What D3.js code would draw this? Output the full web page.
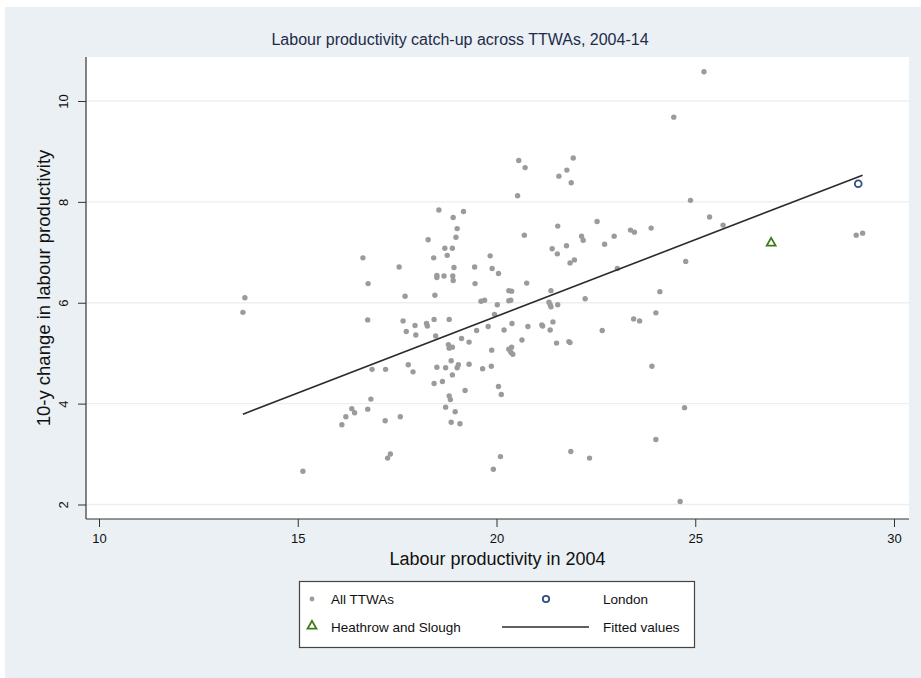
<!DOCTYPE html>
<html>
<head>
<meta charset="utf-8">
<script src="https://cdn.jsdelivr.net/npm/d3@7"></script>
<style>
  body { margin: 0; background: #fff; }
  svg { display: block; }
  text { font-family: "Liberation Sans", Arial, Helvetica, sans-serif; }
</style>
</head>
<body>
<div id="chart"></div>
<script>
// Labour productivity in 2004 (x) and 10-year change (y), all TTWAs
const ttwaX = [
  13.67, 13.62, 15.13,
  16.11, 16.21, 16.36, 16.43, 16.76, 16.84, 17.20, 17.58, 17.33, 17.26, 18.72, 18.81, 18.84, 18.96, 18.86, 19.08,
  16.76, 17.65, 17.95, 18.24, 18.26, 18.43, 18.81, 17.73, 17.97, 18.47, 18.79, 18.81, 18.89, 19.12, 19.31,
  16.87, 17.21, 17.78, 17.90, 18.50, 18.72, 18.86, 19.04, 19.01, 19.31, 18.89, 18.43, 18.64, 19.21,
  18.55, 18.91, 19.17, 19.01, 18.98, 18.28, 18.70, 18.89, 18.76, 18.42, 16.64, 17.55, 18.93, 18.50, 18.50,
  18.68, 18.90, 18.91, 16.77, 17.70, 18.45,
  19.45, 19.46, 19.84, 19.89, 20.05, 20.56, 20.72, 20.53, 20.70, 21.93, 21.77, 21.57, 21.88, 24.46, 24.88,
  25.36, 25.70, 21.54, 22.53, 22.14, 22.18, 22.96, 22.72, 23.37, 23.47, 23.89, 21.40, 21.53, 21.76, 21.85,
  21.96, 23.04, 24.76, 20.76, 20.31, 20.38, 20.31, 20.36, 19.70, 19.61, 20.02, 19.95, 21.37, 21.32, 21.35,
  21.37, 21.54, 22.23, 24.11, 24.01, 23.45, 23.60, 22.66, 19.50, 19.79, 20.19, 20.39, 20.79, 21.14, 21.16,
  21.42, 21.35, 19.88, 20.31, 20.38, 20.41, 20.36, 20.64, 21.51, 21.82, 21.85, 19.65, 19.87, 20.05, 20.12,
  23.91, 24.73, 24.01, 21.87, 22.34, 20.10, 19.92, 24.62, 25.22,
  29.05, 29.21
];
const ttwaY = [
  6.10, 5.81, 2.66,
  3.58, 3.74, 3.90, 3.82, 3.89, 4.09, 3.66, 3.74, 3.00, 2.92, 3.93, 4.15, 4.08, 3.84, 3.63, 3.60,
  5.66, 5.64, 5.55, 5.59, 5.54, 5.67, 5.67, 5.43, 5.36, 5.34, 5.17, 5.10, 5.12, 5.29, 5.22,
  4.68, 4.68, 4.77, 4.63, 4.72, 4.71, 4.85, 4.77, 4.71, 4.78, 4.57, 4.40, 4.44, 4.26,
  7.84, 7.69, 7.81, 7.47, 7.30, 7.25, 7.08, 7.08, 6.94, 6.89, 6.89, 6.71, 6.70, 6.54, 6.50,
  6.53, 6.53, 6.44, 6.38, 6.13, 6.15,
  6.71, 6.38, 6.93, 6.68, 6.58, 8.82, 8.68, 8.12, 7.34, 8.87, 8.63, 8.51, 8.38, 9.68, 8.03,
  7.70, 7.54, 7.52, 7.61, 7.32, 7.24, 7.32, 7.16, 7.44, 7.40, 7.48, 7.07, 6.97, 7.13, 6.79,
  6.85, 6.68, 6.82, 6.39, 6.24, 6.23, 6.04, 6.05, 6.05, 6.03, 5.96, 5.77, 6.24, 6.01, 5.96,
  5.92, 5.96, 6.08, 6.22, 5.80, 5.68, 5.64, 5.45, 5.45, 5.53, 5.46, 5.59, 5.53, 5.56, 5.54,
  5.62, 5.46, 5.06, 5.08, 5.12, 4.98, 5.02, 5.26, 5.20, 5.23, 5.21, 4.69, 4.74, 4.34, 4.18,
  4.74, 3.92, 3.29, 3.05, 2.92, 2.95, 2.70, 2.06, 10.58,
  7.34, 7.38
];
const londonX = [29.10];
const londonY = [8.36];
const heathrowX = [26.91];
const heathrowY = [7.20];
// Fitted line end points
const fitX = [13.62, 29.21];
const fitY = [3.79, 8.53];

const xTicks = [10, 15, 20, 25, 30];
const yTicks = [2, 4, 6, 8, 10];

const legendLabels = ["All TTWAs", "London", "Heathrow and Slough", "Fitted values"];

const width = 921;
const height = 678;
const plot = { left: 86, right: 909, top: 57, bottom: 519 };

const grey = "#9b9b9b";
const navy = "#2d4f83";
const green = "#3d7a1b";

const svg = d3.select("#chart").append("svg")
  .attr("width", width)
  .attr("height", height);

// Outer graph region
svg.append("rect")
  .attr("x", 5).attr("y", 7)
  .attr("width", width - 5).attr("height", height - 7)
  .attr("fill", "#eaf0f3");

// Plot region
svg.append("rect")
  .attr("x", plot.left).attr("y", plot.top)
  .attr("width", plot.right - plot.left).attr("height", plot.bottom - plot.top)
  .attr("fill", "#fff");

const x = d3.scaleLinear().domain([10, 30]).range([99, 894]);
const y = d3.scaleLinear().domain([2, 10]).range([504.5, 101]);

// Horizontal grid lines
svg.append("g")
  .selectAll("line")
  .data(yTicks)
  .enter()
  .append("line")
  .attr("x1", plot.left).attr("x2", plot.right)
  .attr("y1", d => y(d)).attr("y2", d => y(d))
  .attr("stroke", "#e9eff2")
  .attr("stroke-width", 1.3);

// Axes
const xAxis = svg.append("g")
  .attr("transform", `translate(0,${plot.bottom})`)
  .call(d3.axisBottom(x).tickValues(xTicks).tickSize(8).tickPadding(7).tickFormat(d3.format("d")));
xAxis.select(".domain").remove();
xAxis.selectAll("line").attr("stroke", "#333");
xAxis.selectAll("text").attr("font-size", 13).attr("fill", "#111");

const yAxis = svg.append("g")
  .attr("transform", `translate(${plot.left},0)`)
  .call(d3.axisLeft(y).tickValues(yTicks).tickSize(8).tickFormat(d3.format("d")));
yAxis.select(".domain").remove();
yAxis.selectAll("line").attr("stroke", "#333");
yAxis.selectAll("text")
  .attr("transform", "rotate(-90)")
  .attr("x", 0).attr("y", -18).attr("dy", 0)
  .attr("text-anchor", "middle")
  .attr("font-size", 13).attr("fill", "#111");

svg.append("line")
  .attr("x1", plot.left).attr("x2", plot.right)
  .attr("y1", plot.bottom).attr("y2", plot.bottom)
  .attr("stroke", "#333").attr("stroke-width", 1.2);
svg.append("line")
  .attr("x1", plot.left).attr("x2", plot.left)
  .attr("y1", plot.top).attr("y2", plot.bottom)
  .attr("stroke", "#333").attr("stroke-width", 1.2);

// Titles
svg.append("text")
  .attr("x", 460).attr("y", 45)
  .attr("text-anchor", "middle")
  .attr("font-size", 16)
  .attr("fill", "#1e2b4b")
  .text("Labour productivity catch-up across TTWAs, 2004-14");

svg.append("text")
  .attr("x", (plot.left + plot.right) / 2).attr("y", 565)
  .attr("text-anchor", "middle")
  .attr("font-size", 18)
  .attr("fill", "#111")
  .text("Labour productivity in 2004");

svg.append("text")
  .attr("transform", `translate(50,${(plot.top + plot.bottom) / 2}) rotate(-90)`)
  .attr("text-anchor", "middle")
  .attr("font-size", 18.5)
  .attr("fill", "#111")
  .text("10-y change in labour productivity");

// Scatter of all TTWAs
const ttwa = ttwaX.map((v, i) => ({ x: v, y: ttwaY[i] }));
svg.append("g")
  .selectAll("circle")
  .data(ttwa)
  .enter()
  .append("circle")
  .attr("cx", d => x(d.x))
  .attr("cy", d => y(d.y))
  .attr("r", 2.7)
  .attr("fill", grey);

// Fitted line
const fit = fitX.map((v, i) => [v, fitY[i]]);
svg.append("path")
  .datum(fit)
  .attr("d", d3.line().x(d => x(d[0])).y(d => y(d[1])))
  .attr("fill", "none")
  .attr("stroke", "#2b2b2b")
  .attr("stroke-width", 1.6);

// London
svg.append("g")
  .selectAll("circle")
  .data(londonX.map((v, i) => ({ x: v, y: londonY[i] })))
  .enter()
  .append("circle")
  .attr("cx", d => x(d.x))
  .attr("cy", d => y(d.y))
  .attr("r", 3.4)
  .attr("fill", "none")
  .attr("stroke", navy)
  .attr("stroke-width", 1.8);

// Heathrow and Slough
const tri = d3.symbol().type(d3.symbolTriangle).size(34);
svg.append("g")
  .selectAll("path")
  .data(heathrowX.map((v, i) => ({ x: v, y: heathrowY[i] })))
  .enter()
  .append("path")
  .attr("transform", d => `translate(${x(d.x)},${y(d.y) + 0.8})`)
  .attr("d", tri)
  .attr("fill", "none")
  .attr("stroke", green)
  .attr("stroke-width", 1.8);

// Legend
const legend = svg.append("g");
legend.append("rect")
  .attr("x", 299.5).attr("y", 581.5)
  .attr("width", 395).attr("height", 66)
  .attr("fill", "#fff")
  .attr("stroke", "#444")
  .attr("stroke-width", 1.2);

const row1 = 599, row2 = 627;
legend.append("circle").attr("cx", 312).attr("cy", row1).attr("r", 2.4).attr("fill", grey);
legend.append("circle").attr("cx", 546).attr("cy", row1).attr("r", 3.2)
  .attr("fill", "none").attr("stroke", navy).attr("stroke-width", 1.8);
legend.append("path")
  .attr("transform", `translate(312,${row2 - 1})`)
  .attr("d", tri)
  .attr("fill", "none").attr("stroke", green).attr("stroke-width", 1.8);
legend.append("line")
  .attr("x1", 502).attr("x2", 589).attr("y1", row2).attr("y2", row2)
  .attr("stroke", "#2b2b2b").attr("stroke-width", 1.6);

const legendPos = [[331, row1], [603, row1], [331, row2], [603, row2]];
legend.selectAll("text.lab")
  .data(legendLabels)
  .enter()
  .append("text")
  .attr("class", "lab")
  .attr("x", (d, i) => legendPos[i][0])
  .attr("y", (d, i) => legendPos[i][1])
  .attr("dy", "0.35em")
  .attr("font-size", 13.5)
  .attr("fill", "#111")
  .text(d => d);
</script>
</body>
</html>
